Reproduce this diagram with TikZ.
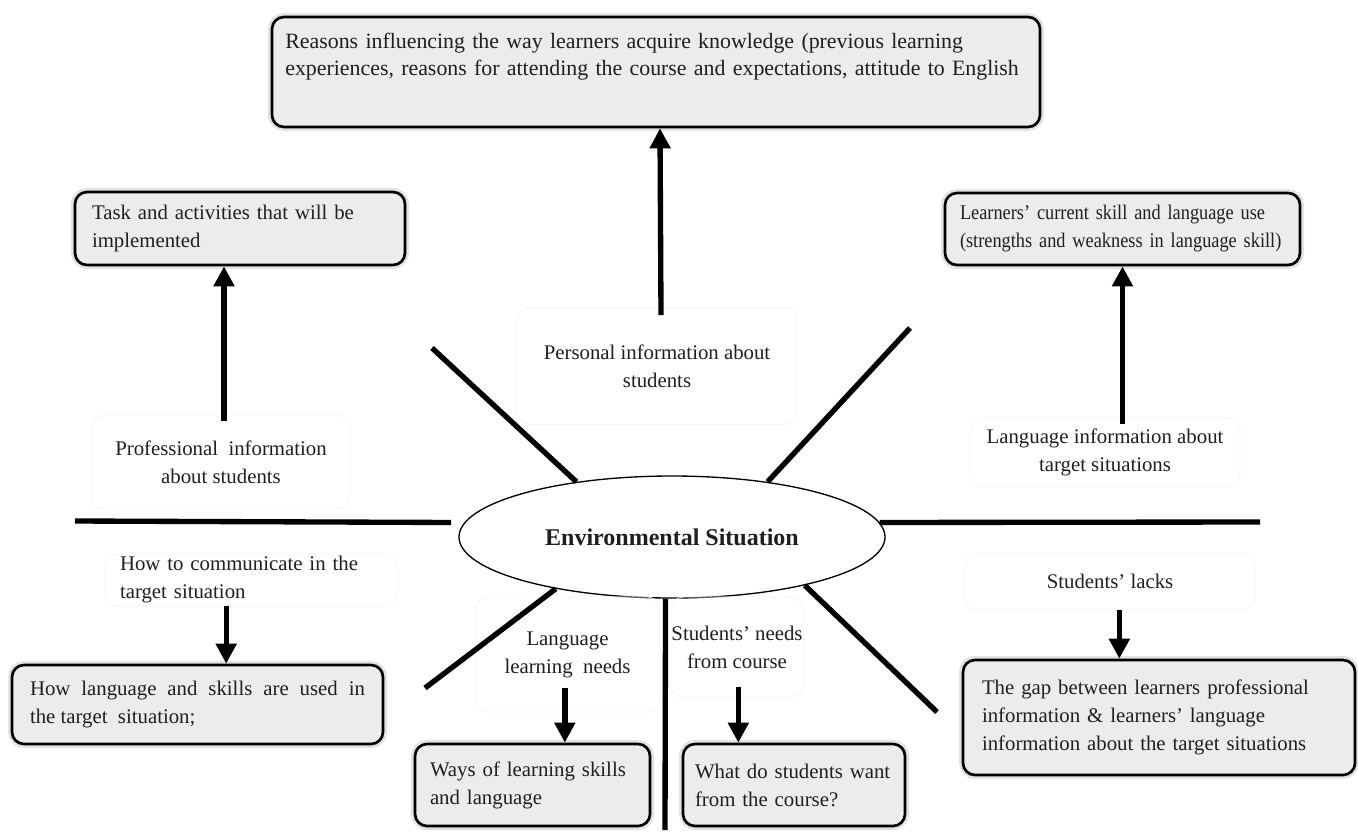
\documentclass[tikz,border=0pt]{standalone}
\usepackage{fontspec}
\setmainfont{Liberation Serif}
\newfontfamily\narrowserif[FakeStretch=0.88,Ligatures=TeX]{Liberation Serif}
\usetikzlibrary{arrows.meta,calc,shapes.geometric}

\begin{document}
\begin{tikzpicture}[x=0.75pt,y=-0.75pt,
  every node/.style={font=\fontsize{15.6}{21}\selectfont, text=black!88},
  gbox/.style={draw=black, line width=2pt, rounded corners=9pt, fill=gray!15,
    align=left, preaction={draw=gray!22, line width=6pt}},
  lbox/.style={draw=gray!8, line width=0.6pt, rounded corners=10pt,
    align=center, inner sep=1pt},
  spoke/.style={line width=4pt},
  flow/.style={line width=4pt, -{Triangle[width=15pt,length=15pt]}},
]
\fill[white] (0,0) rectangle (1358,832);
\useasboundingbox (0,0) rectangle (1358,832);

% central ellipse
\node[ellipse, draw, line width=1pt, minimum width=319.5pt, minimum height=91.5pt,
  inner sep=0pt, font=\fontsize{18}{21}\selectfont\bfseries] (ell) at (672,537)
  {Environmental Situation};

% outer grey boxes
\node[gbox, inner xsep=10pt, text width=556pt, minimum height=82.5pt,
  font=\fontsize{16.4}{20.5}\selectfont] (top) at (656,72)
  {Reasons influencing the way learners acquire knowledge (previous learning\\
   experiences, reasons for attending the course and expectations, attitude to English\\ \strut};
\node[gbox, inner xsep=12.75pt, text width=222pt, minimum height=54.75pt] (task) at (240,228.5)
  {Task and activities that will be\\ implemented};
\node[gbox, inner xsep=11.25pt, text width=243.75pt, minimum height=54pt,
  font=\fontsize{15.6}{21}\narrowserif] (learners) at (1122.5,229)
  {Learners' current skill and language use\\ (strengths and weakness in language skill)};
\node[gbox, align=justify, inner xsep=13.5pt, text width=251.25pt, minimum height=59.25pt] (howlang) at (197.5,704.5)
  {How language and skills are used in\linebreak the target\ \ situation;};
\node[gbox, inner xsep=11.25pt, text width=153.75pt, minimum height=61.5pt] (ways) at (532.5,785)
  {Ways of learning skills\\ and language};
\node[gbox, inner xsep=9pt, text width=148.5pt, minimum height=61.5pt] (what) at (794,785)
  {What do students want\\ from the course?};
\node[gbox, inner xsep=14.25pt, text width=265.5pt, minimum height=86.25pt] (gap) at (1159,717.5)
  {The gap between learners professional\\ information \& learners' language\\ information about the target situations};

% label boxes
\node[lbox, minimum width=210pt, minimum height=87.75pt] (personal) at (657,366)
  {Personal information about\\ students};
\node[lbox, minimum width=193.5pt, minimum height=70.5pt] (prof) at (221,462)
  {Professional\ \ information\\ about students};
\node[lbox, minimum width=202.5pt, minimum height=51.75pt] (langinfo) at (1105,452.5)
  {Language information about\\ target situations};
\node[lbox, align=left, inner xsep=11.25pt, text width=197.25pt, minimum height=39pt] (howcomm) at (251.5,580)
  {How to communicate in the\\ target situation};
\node[lbox, minimum width=138.75pt, minimum height=86.25pt] (langneeds) at (567.5,654.5)
  {Language\\ learning\ \ needs};
\node[lbox, minimum width=97.5pt, minimum height=75pt] (stneeds) at (737,647)
  {Students' needs\\ from course};
\node[lbox, minimum width=217.5pt, minimum height=42.75pt] (lacks) at (1110,581.5)
  {Students' lacks};

% free ends of the spokes
\coordinate (ulend) at (432,348);
\coordinate (urend) at (910,328);
\coordinate (llend) at (425,688);
\coordinate (lrend) at (937,712);
\coordinate (vend) at (665,830);
\coordinate (hlend) at (75,521);
\coordinate (hrend) at (1260,522);

% spokes
\draw[spoke] (ell.150) -- (ulend);
\draw[spoke] (ell.30) -- (urend);
\draw[spoke] (ell.204) -- (llend);
\draw[spoke] (ell.340) -- (lrend);
\draw[spoke] (ell.264) -- (vend);
\draw[spoke] (hlend) -- ([xshift=-10pt]ell.176);
\draw[spoke] (ell.4) -- (hrend);

% arrows
\draw[flow] ([xshift=3pt,yshift=-6pt]personal.north) -- ([xshift=3pt]top.south);
\draw[flow] ([xshift=2.25pt,yshift=-5pt]prof.north) -- ([xshift=2.25pt]prof.north |- task.south);
\draw[flow] ([yshift=-5pt]learners.south |- langinfo.north) -- (learners.south);
\draw[flow] ([xshift=-19pt]howcomm.south) -- ([xshift=-19pt]howcomm.south |- howlang.north);
\draw[flow] ([xshift=-2pt,yshift=18pt]langneeds.south) -- ([xshift=-2pt]langneeds.south |- ways.north);
\draw[flow] ([xshift=1pt,yshift=42pt]stneeds.south |- ways.north) -- ([xshift=1pt]stneeds.south |- ways.north);
\draw[flow] ([xshift=7pt]lacks.south) -- ([xshift=7pt]lacks.south |- gap.north);
\end{tikzpicture}
\end{document}
